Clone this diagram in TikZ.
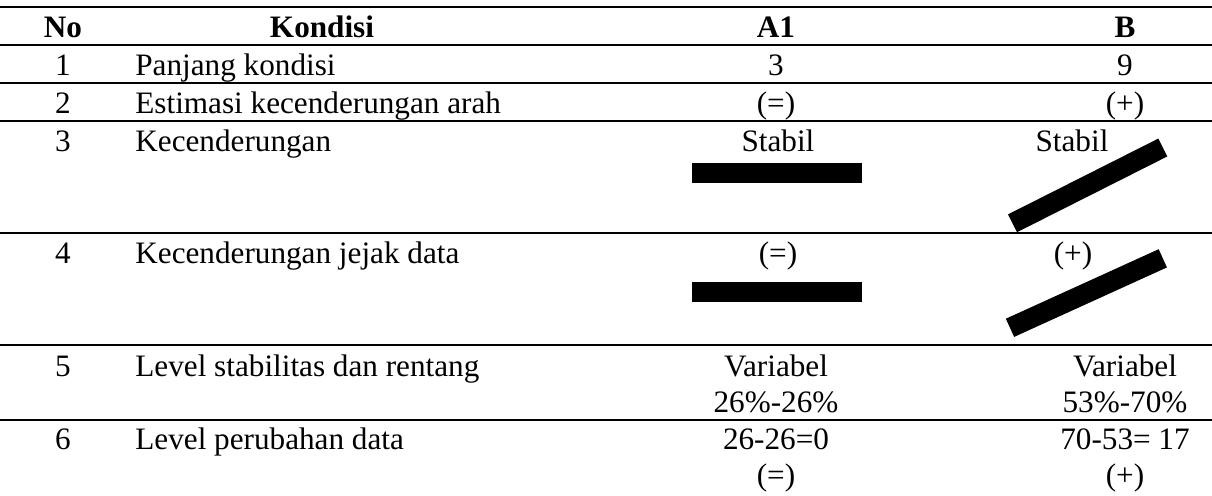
\documentclass[tikz,border=0pt]{standalone}
\usepackage{fontspec}
\setmainfont{Liberation Serif}

\begin{document}
\begin{tikzpicture}[x=0.5pt,y=-0.5pt,
  cell/.style={anchor=base,inner sep=0pt,font=\fontsize{15.6}{18}\selectfont},
  head/.style={cell,font=\fontsize{15.6}{18}\selectfont\bfseries},
  left cell/.style={cell,anchor=base west},
  rule/.style={line width=1.1pt},
  trend/.style={line width=10pt}]
  \useasboundingbox (0,0) rectangle (1212,495);

  %rules
  \foreach \y in {7,45,83,121,233,345,420}
    \draw[rule] (0,\y) -- (1212,\y);

  %header
  \node[head] (hno) at (63,37.5) {No};
  \node[head] (hkon) at (322,37.5) {Kondisi};
  \node[head] (ha) at (776,37.5) {A1};
  \node[head] (hb) at (1125,37.5) {B};

  %row 1
  \node[cell] (n1) at (63,75.5) {1};
  \node[left cell] (k1) at (135,75.5) {Panjang kondisi};
  \node[cell] (a1) at (776,75.5) {3};
  \node[cell] (b1) at (1125,75.5) {9};

  %row 2
  \node[cell] (n2) at (63,113.5) {2};
  \node[left cell] (k2) at (135,113.5) {Estimasi kecenderungan arah};
  \node[cell] (a2) at (776,113.5) {(=)};
  \node[cell] (b2) at (1125,113.5) {(+)};

  %row 3
  \node[cell] (n3) at (63,151.5) {3};
  \node[left cell] (k3) at (135,151.5) {Kecenderungan};
  \node[cell] (a3) at (778,151.5) {Stabil};
  \node[cell] (b3) at (1072,151.5) {Stabil};
  \draw[trend] (692,173) -- (862,173);
  \draw[trend] (1012.5,223.3) -- (1162.8,147.5);

  %row 4
  \node[cell] (n4) at (63,263.5) {4};
  \node[left cell] (k4) at (135,263.5) {Kecenderungan jejak data};
  \node[cell] (a4) at (778,263.5) {(=)};
  \node[cell] (b4) at (1073,263.5) {(+)};
  \draw[trend] (692,291.5) -- (862,291.5);
  \draw[trend] (1010,327.8) -- (1162.8,258.3);

  %row 5
  \node[cell] (n5) at (63,376) {5};
  \node[left cell] (k5) at (135,376) {Level stabilitas dan rentang};
  \node[cell] (a5) at (776,376) {Variabel};
  \node[cell] (a5r) at (776,412) {26\%-26\%};
  \node[cell] (b5) at (1125,376) {Variabel};
  \node[cell] (b5r) at (1125,412) {53\%-70\%};

  %row 6
  \node[cell] (n6) at (63,449) {6};
  \node[left cell] (k6) at (135,449) {Level perubahan data};
  \node[cell] (a6) at (776,449) {26-26=0};
  \node[cell] (a6r) at (776,485) {(=)};
  \node[cell] (b6) at (1125,449) {70-53= 17};
  \node[cell] (b6r) at (1125,485) {(+)};
\end{tikzpicture}
\end{document}
